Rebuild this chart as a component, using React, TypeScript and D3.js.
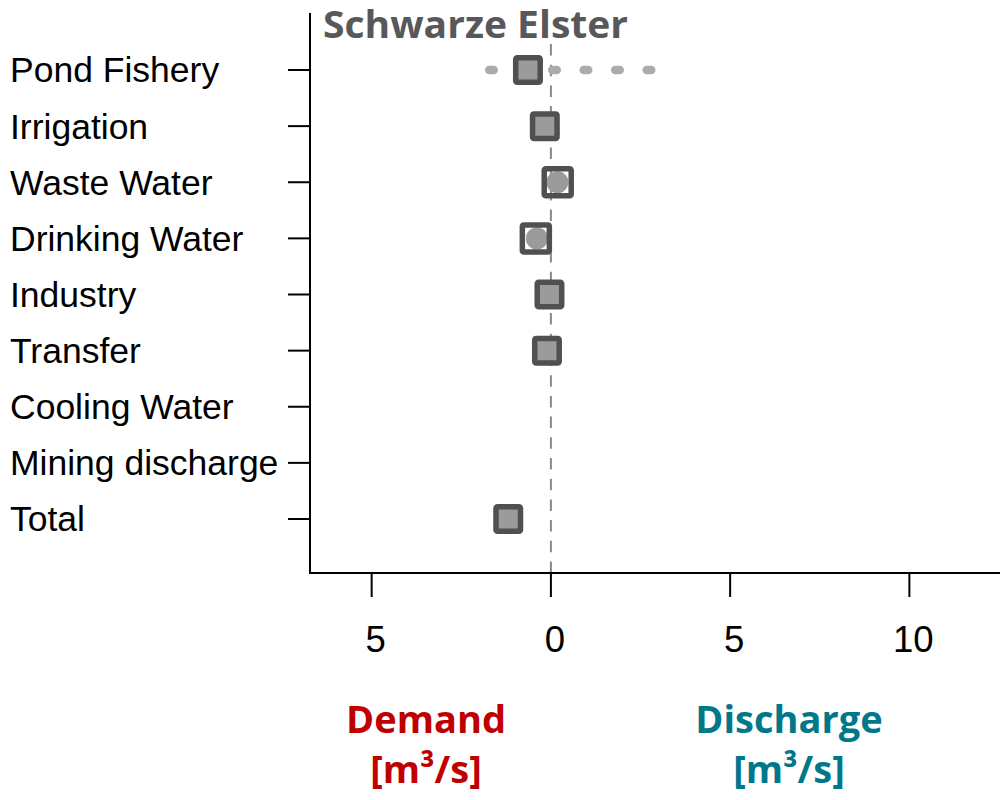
import React from "react";
import * as d3 from "d3";

// Water-use sectors, top to bottom
const categories = [
  "Pond Fishery",
  "Irrigation",
  "Waste Water",
  "Drinking Water",
  "Industry",
  "Transfer",
  "Cooling Water",
  "Mining discharge",
  "Total",
];

// Change in flow per sector [m³/s]; negative = demand, positive = discharge
const squareValues: (number | null)[] = [-0.64, -0.17, 0.19, -0.42, -0.04, -0.11, null, null, -1.19];
// Sectors whose square is drawn open with a separate circle estimate inside
const openSquare: boolean[] = [false, false, true, true, false, false, false, false, false];
const circleValues: (number | null)[] = [null, null, 0.18, -0.39, null, null, null, null, null];
// Uncertainty range (dashed) for pond fishery
const rangeCategory = "Pond Fishery";
const rangeValues: [number, number] = [-1.72, 2.85];

const xTicks = [-5, 0, 5, 10];
const xTickLabels = ["5", "0", "5", "10"];

const title = "Schwarze Elster";
const demandLabel = ["Demand", "[m³/s]"];
const dischargeLabel = ["Discharge", "[m³/s]"];

const W = 1000;
const H = 800;
const plotLeft = 310;
const plotRight = 999;
const plotTop = 13;
const plotBottom = 573;

export default function App() {
  const x = d3.scaleLinear().domain([-6.72, 12.5]).range([plotLeft, plotRight]);
  const y = d3.scalePoint<string>().domain(categories).range([70, 519]);

  const sansFont = "'Liberation Sans', Arial, sans-serif";
  const boldFont = "'Open Sans', 'Noto Sans', sans-serif";
  const markStroke = "#505050";
  const markFill = "#9b9b9b";

  return (
    <svg
      width={W}
      height={H}
      viewBox={`0 0 ${W} ${H}`}
      style={{ position: "absolute", left: 0, top: 0, background: "#fff" }}
    >
      {/* zero line */}
      <line
        x1={x(0)}
        x2={x(0)}
        y1={44}
        y2={plotBottom}
        stroke="#8a8a8a"
        strokeWidth={2}
        strokeDasharray="11.5 9.2"
      />

      {/* axes */}
      <line x1={plotLeft} x2={plotLeft} y1={plotTop} y2={plotBottom + 1} stroke="#000" strokeWidth={2} />
      <line x1={plotLeft - 1} x2={W} y1={plotBottom} y2={plotBottom} stroke="#000" strokeWidth={2} />

      {categories.map((c) => (
        <g key={c}>
          <line x1={288} x2={plotLeft} y1={y(c)} y2={y(c)} stroke="#000" strokeWidth={2} />
          <text
            x={10}
            y={y(c)}
            dy="0.35em"
            fontFamily={sansFont}
            fontSize={35.5}
            fill="#000"
          >
            {c}
          </text>
        </g>
      ))}

      {xTicks.map((t, i) => (
        <g key={t}>
          <line x1={x(t)} x2={x(t)} y1={plotBottom} y2={597} stroke="#000" strokeWidth={2} />
          <text
            x={x(t) + 4}
            y={652}
            textAnchor="middle"
            fontFamily={sansFont}
            fontSize={36.5}
            fill="#000"
          >
            {xTickLabels[i]}
          </text>
        </g>
      ))}

      {/* range */}
      <line
        x1={x(rangeValues[0])}
        x2={x(rangeValues[1])}
        y1={y(rangeCategory)}
        y2={y(rangeCategory)}
        stroke="#ababab"
        strokeWidth={8.5}
        strokeLinecap="round"
        strokeDasharray="4.5 27"
      />

      {/* circle estimates */}
      {circleValues.map((v, i) =>
        v === null ? null : (
          <circle key={"c" + i} cx={x(v)} cy={y(categories[i])} r={11} fill={markFill} />
        )
      )}

      {/* square estimates */}
      {squareValues.map((v, i) => {
        if (v === null) return null;
        const side = openSquare[i] ? 27 : 24.5;
        const cx = x(v);
        const cy = y(categories[i])!;
        return (
          <rect
            key={"s" + i}
            x={cx - side / 2}
            y={cy - side / 2}
            width={side}
            height={side}
            rx={1.5}
            fill={openSquare[i] ? "none" : markFill}
            stroke={markStroke}
            strokeWidth={5.5}
          />
        );
      })}

      <text
        x={323}
        y={38}
        fontFamily={boldFont}
        fontWeight={700}
        fontSize={37}
        fill="#58585a"
        textLength={305}
        lengthAdjust="spacingAndGlyphs"
      >
        {title}
      </text>

      {demandLabel.map((s, i) => (
        <text
          key={"d" + i}
          x={426}
          y={733 + i * 50}
          textAnchor="middle"
          fontFamily={boldFont}
          fontWeight={700}
          fontSize={38}
          fill="#c00000"
        >
          {s}
        </text>
      ))}
      {dischargeLabel.map((s, i) => (
        <text
          key={"q" + i}
          x={789}
          y={733 + i * 50}
          textAnchor="middle"
          fontFamily={boldFont}
          fontWeight={700}
          fontSize={38}
          fill="#007889"
        >
          {s}
        </text>
      ))}
    </svg>
  );
}
